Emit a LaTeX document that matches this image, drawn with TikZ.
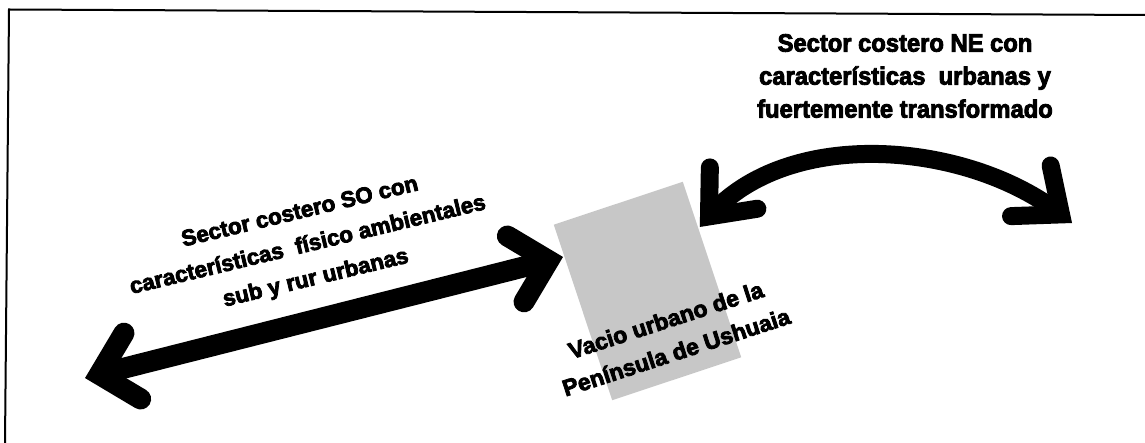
\documentclass[tikz,border=0pt]{standalone}
\usepackage{fontspec}
\setmainfont{Liberation Sans}[BoldFeatures={FakeBold=3.5}]
\usetikzlibrary{calc}
\definecolor{vaciogray}{gray}{0.78}
\begin{document}
\begin{tikzpicture}[x=1pt,y=-1pt,
  frameline/.style={line width=2pt, black},
  soshaft/.style={line width=21pt, line cap=butt, black},
  sobarb/.style={line width=21pt, line cap=round, line join=miter, miter limit=20, black},
  neshaft/.style={line width=18pt, line cap=butt, black},
  nebarb/.style={line width=18pt, line cap=round, line join=miter, miter limit=20, black},
  boldtext/.style={align=center, inner sep=0pt, font=\bfseries},
  vaciobox/.style={fill=vaciogray, draw=none, minimum width=136pt, minimum height=185pt, inner sep=0pt}]
\useasboundingbox (0,0) rectangle (1145,443);
\fill[white] (0,0) rectangle (1145,443);
% frame (top and left edges)
\coordinate (fTR) at (1145,15);
\coordinate (fTL) at (9,9.5);
\coordinate (fBL) at (5,443);
\draw[frameline] (fTR) -- (fTL) -- (fBL);
% grey box
\node[vaciobox, rotate=18.4] (vbox) at (647.5,291) {};
% SO double arrow
\coordinate (soL) at (99.4,374.4);
\coordinate (soR) at (548.6,260.6);
\draw[soshaft] (soL) -- (soR);
\draw[sobarb] ($(soL)!48pt!45:(soR)$) -- (soL) -- ($(soL)!48pt!-45:(soR)$);
\draw[sobarb] ($(soR)!48pt!45:(soL)$) -- (soR) -- ($(soR)!48pt!-45:(soL)$);
% NE curved double arrow
\coordinate (neL) at (709,216.4);
\coordinate (neR) at (1061,214.4);
\coordinate (neC1) at (787.3,126.3);
\coordinate (neC2) at (966.9,140.8);
\draw[neshaft] (neL) .. controls (neC1) and (neC2) .. (neR);
\draw[nebarb] ($(neL)!49pt!40:(neC1)$) -- (neL) -- ($(neL)!49pt!-40:(neC1)$);
\draw[nebarb] ($(neR)!50pt!40:(neC2)$) -- (neR) -- ($(neR)!50pt!-40:(neC2)$);
% texts
\node[boldtext, font=\fontsize{25}{33}\selectfont\bfseries, xscale=0.95] (netext) at (905,76)
  {Sector costero NE con\\características\ \ urbanas y\\fuertemente transformado};
\node[boldtext, font=\fontsize{22.5}{34}\selectfont\bfseries, rotate=13.5] (sotext) at (308,246)
  {Sector costero SO con\\características\ \ físico ambientales\\sub y rur urbanas};
\node[boldtext, font=\fontsize{23}{33.6}\selectfont\bfseries, rotate=18] (vaciotext) at (671,336)
  {Vacio urbano de la\\Península de Ushuaia};
\end{tikzpicture}
\end{document}
